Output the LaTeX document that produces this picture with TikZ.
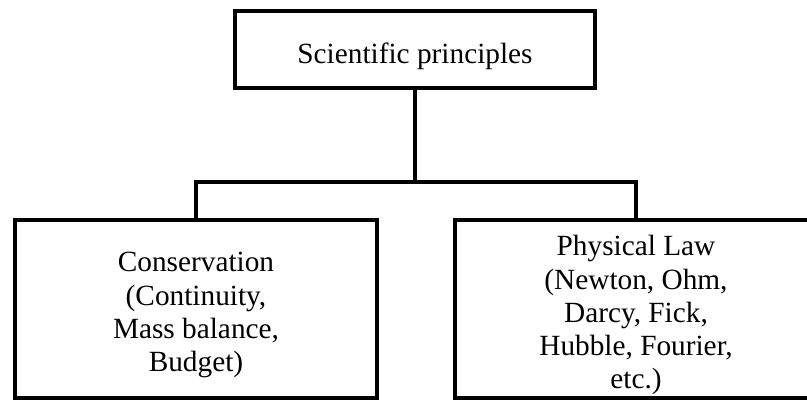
\documentclass[tikz,border=0pt]{standalone}
\usepackage{fontspec}
\setmainfont{Liberation Serif}
\usetikzlibrary{positioning}

\begin{document}
\begin{tikzpicture}[
  x=1pt,y=-1pt,
  box/.style={draw=black,line width=4pt,inner sep=0pt},
  boxtext/.style={align=center,inner sep=0pt,yshift=-6.5pt,
    font=\fontsize{29.3}{33.3}\selectfont},
  conn/.style={draw=black,line width=4pt}
]
\useasboundingbox (0,0) rectangle (807,402);
\clip (0,0) rectangle (807,402);
\node[box,minimum width=360pt,minimum height=77pt,
  label={[boxtext]center:Scientific principles}] (sci) at (415,49.5) {};
\node[box,minimum width=362pt,minimum height=178.5pt,
  label={[boxtext]center:{Conservation\\(Continuity,\\Mass balance,\\Budget)}}]
  (cons) at (196,308.75) {};
\node[box,minimum width=362pt,minimum height=178.5pt,
  label={[boxtext]center:{Physical Law\\(Newton, Ohm,\\Darcy, Fick,\\Hubble, Fourier,\\etc.)}}]
  (phys) at (636,308.75) {};
\coordinate (fork) at (415,182);
\draw[conn] (sci.south) -- (fork);
\draw[conn] (fork) -| (cons.north);
\draw[conn] (fork) -| (phys.north);
\end{tikzpicture}
\end{document}
